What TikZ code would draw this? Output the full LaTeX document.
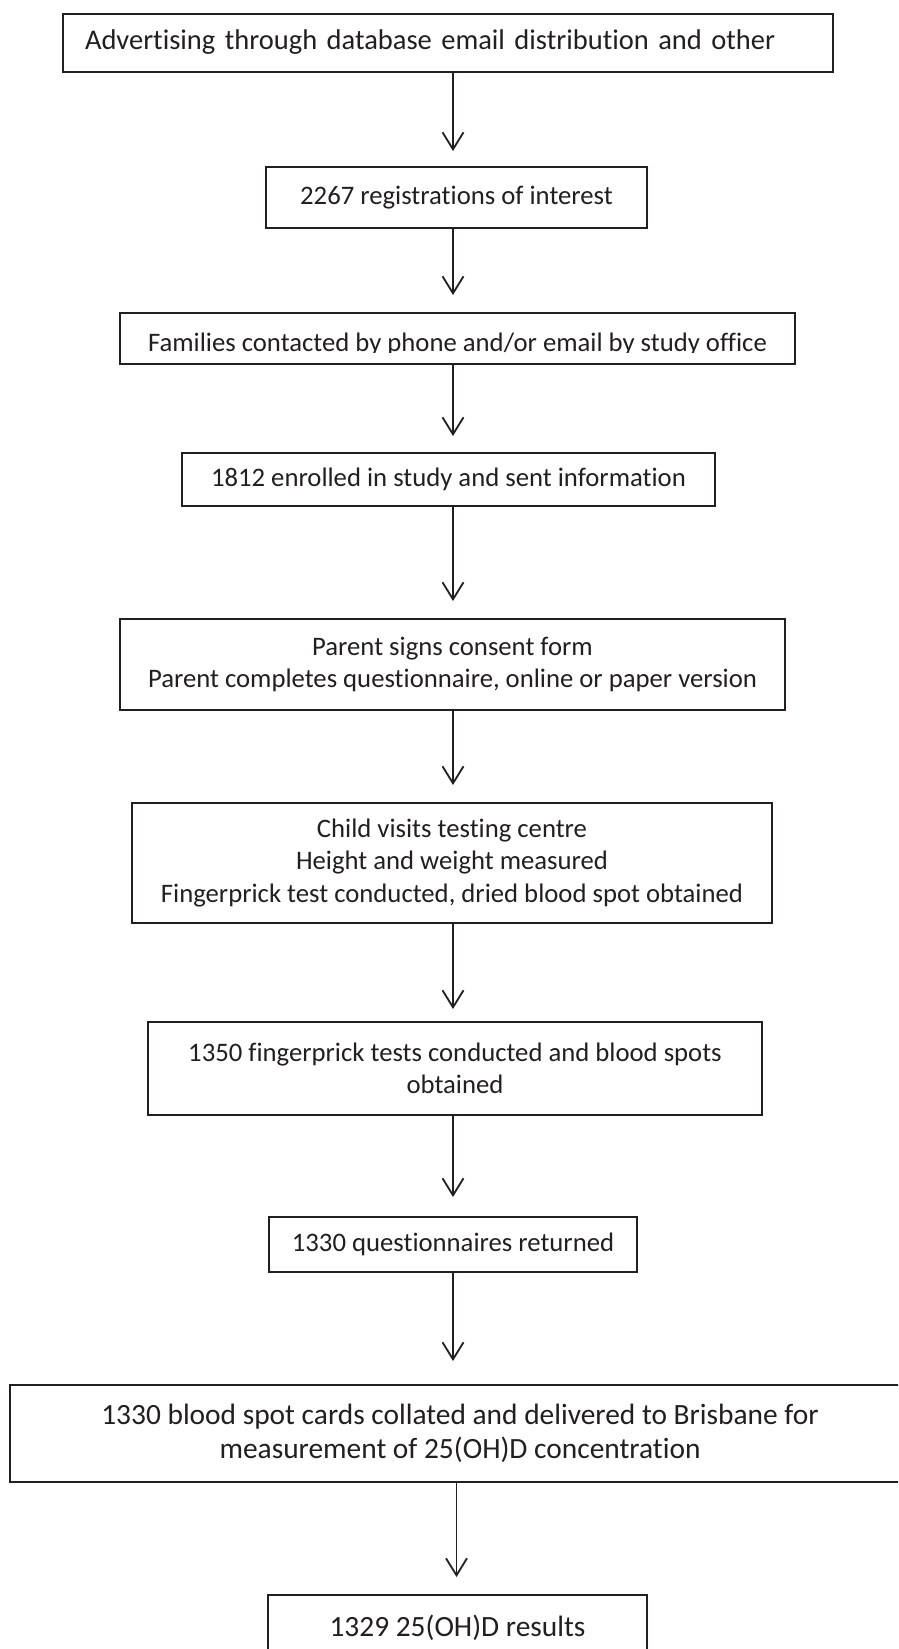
\documentclass[tikz,border=0pt]{standalone}
\usepackage{fontspec}
\setmainfont{Carlito}[Ligatures=NoCommon]
\usetikzlibrary{arrows.meta,calc}
\definecolor{lc}{HTML}{231F20}
\newcommand{\fs}{\fontsize{26.7}{32.3}\selectfont}
\newcommand{\fsa}{\fontsize{28.5}{34}\selectfont}
\newcommand{\fsb}{\fontsize{29.4}{34.2}\selectfont}
\begin{document}
\begin{tikzpicture}[x=1pt,y=-1pt,
  box/.style={draw=lc, line width=2pt, rectangle, inner sep=0pt, align=center, font=\fs, text=lc},
  lbl/.style={inner sep=0pt, align=center, font=\fs, text=lc},
  arr/.style={draw=lc, line width=1.8pt, -{Straight Barb[length=17pt,width=21pt]}},
]
\useasboundingbox (0,0) rectangle (898,1649);
\clip (0,0) rectangle (898,1649);
\fill[white] (0,0) rectangle (898,1649);

\node[box, font=\fsa, minimum width=770pt, minimum height=58pt, text width=726pt, align=left] (b1) at (448,42.5) {Advertising through database email distribution and other};
\node[box, minimum width=381pt, minimum height=61pt] (b2) at (456.5,197.5) {2267 registrations of interest};
\node[box, minimum width=675pt, minimum height=51pt] (b3) at (457.5,338.5) {};
\begin{scope}
  \clip (120,313) rectangle (795,352);
  \node[lbl, anchor=base] (b3t) at (457.5,351) {Families contacted by phone and/or email by study office};
\end{scope}
\node[box, minimum width=533pt, minimum height=53pt] (b4) at (448.5,479.5) {1812 enrolled in study and sent information};
\node[box, minimum width=665pt, minimum height=91pt] (b5) at (452.5,664.5) {Parent signs consent form\\Parent completes questionnaire, online or paper version};
\node[box, minimum width=640pt, minimum height=120pt] (b6) at (452,863) {Child visits testing centre\\Height and weight measured\\Fingerprick test conducted, dried blood spot obtained};
\node[box, minimum width=614pt, minimum height=93pt] (b7) at (455,1068.5) {1350 fingerprick tests conducted and blood spots\\obtained};
\node[box, minimum width=368pt, minimum height=55pt] (b8) at (453,1244.5) {1330 questionnaires returned};
\node[box, font=\fsb, minimum width=900pt, minimum height=97pt] (b9) at (460,1433.5) {1330 blood spot cards collated and delivered to Brisbane for\\measurement of 25(OH)D concentration};
\node[box, font=\fsb, minimum width=379pt, minimum height=65pt] (b10) at (457.5,1627.5) {1329 25(OH)D results};

\coordinate (ax) at (453,0);
\coordinate (ax2) at (456.5,0);
\draw[arr, shorten >=15pt] (b1.south -| ax) -- (b2.north -| ax);
\draw[arr, shorten >=17pt] (b2.south -| ax) -- (b3.north -| ax);
\draw[arr, shorten >=16pt] (b3.south -| ax) -- (b4.north -| ax);
\draw[arr, shorten >=17pt] (b4.south -| ax) -- (b5.north -| ax);
\draw[arr, shorten >=17pt] (b5.south -| ax) -- (b6.north -| ax);
\draw[arr, shorten >=12pt] (b6.south -| ax) -- (b7.north -| ax);
\draw[arr, shorten >=19pt] (b7.south -| ax) -- (b8.north -| ax);
\draw[arr, shorten >=23pt] (b8.south -| ax) -- (b9.north -| ax);
\draw[arr, shorten >=17pt] (b9.south -| ax2) -- (b10.north -| ax2);
\end{tikzpicture}
\end{document}
